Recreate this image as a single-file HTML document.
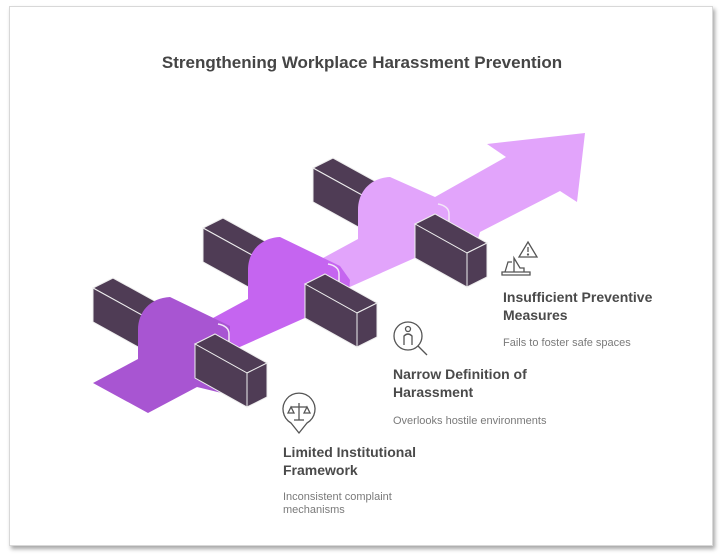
<!DOCTYPE html>
<html><head><meta charset="utf-8"><style>
html,body{margin:0;padding:0;background:#fff;width:723px;height:558px;overflow:hidden}
.frame{position:absolute;left:9px;top:6px;width:702px;height:538px;border:1px solid #d8d8d8;box-shadow:2px 3px 4px rgba(0,0,0,.35);background:#fff}
svg{position:absolute;left:0;top:0}
text{font-family:"Liberation Sans",sans-serif}
.h{font-weight:bold;font-size:14px;fill:#4a4a4a}
.s{font-size:11px;fill:#7a7a7a}
</style></head><body>
<div class="frame"></div>
<svg width="723" height="558" viewBox="0 0 723 558">
<defs>
<g id="barfull">
 <polygon points="0,0 20,-10 174,75 154,85" fill="#4f3c55" stroke="#eee" stroke-width="1"/>
 <polygon points="0,0 154,85 154,119 0,34" fill="#4f3c55" stroke="#eee" stroke-width="1"/>
 <polygon points="154,85 174,75 174,109 154,119" fill="#4f3c55" stroke="#eee" stroke-width="1"/>
</g>
<g id="barfront">
 <polygon points="102,56 122,46 174,75 154,85" fill="#4f3c55" stroke="#eee" stroke-width="1"/>
 <polygon points="102,56 154,85 154,119 102,90" fill="#4f3c55" stroke="#eee" stroke-width="1"/>
 <polygon points="154,85 174,75 174,109 154,119" fill="#4f3c55" stroke="#eee" stroke-width="1"/>
</g>
</defs>
<text x="362" y="68" text-anchor="middle" font-weight="bold" font-size="17" fill="#454545">Strengthening Workplace Harassment Prevention</text>

<use href="#barfull" x="313" y="168"/>
<use href="#barfull" x="203" y="228"/>
<use href="#barfull" x="93" y="288"/>

<path d="M323,258 L358,239 L358,210 C358,192 370,178 390,177 L435,197 L506,157 L487,144 L585,133 L577,202 L560,191 L480,232 L470,265 L417,257 L343,290 Z" fill="#e2a4fb"/>
<path d="M213,318 L248,299 L248,270 C248,252 260,238 280,237 L340,266 L350,280 L345,335 L307,317 L233,350 Z" fill="#c565f0"/>
<path d="M93,383 L138,359 L138,330 C138,312 150,298 170,297 L230,326 L230,395 L197,387 L148,413 Z" fill="#a855d2"/>
<path d="M218,324 Q229,326 229,334 L229,346" fill="none" stroke="#f3e6f8" stroke-width="1.5"/>
<path d="M328,264 Q339,266 339,274 L339,286" fill="none" stroke="#f3e6f8" stroke-width="1.5"/>
<path d="M438,204 Q449,206 449,214 L449,226" fill="none" stroke="#f3e6f8" stroke-width="1.5"/>

<use href="#barfront" x="313" y="168"/>
<use href="#barfront" x="203" y="228"/>
<use href="#barfront" x="93" y="288"/>

<!-- icons -->
<g fill="none" stroke="#555" stroke-width="1.3">
 <path d="M528,242 L537,257 L519,257 Z"/>
 <line x1="528" y1="247" x2="528" y2="252"/><circle cx="528" cy="254.5" r="0.5"/>
 <path d="M502,272 L530,272 L530,275 L502,275 Z"/>
 <path d="M505,272 L508,262 L512,262 M514,272 L514,258 L520,268 L524,268 L524,272"/>
 <circle cx="408" cy="336" r="14"/>
 <line x1="418" y1="346" x2="427" y2="355"/>
 <circle cx="408" cy="329" r="2.5"/>
 <path d="M404,345 L404,336 Q408,332 412,336 L412,345"/>
 <path d="M299,433 L291,423 A16,16 0 1 1 307,423 Z"/>
 <line x1="299" y1="403" x2="299" y2="420"/><line x1="291" y1="407" x2="307" y2="407"/>
 <path d="M288,413 L291,407 L294,413 Z M304,413 L307,407 L310,413 Z"/>
 <line x1="294" y1="420" x2="304" y2="420"/>
</g>

<text class="h" x="503" y="302">Insufficient Preventive</text>
<text class="h" x="503" y="320">Measures</text>
<text class="s" x="503" y="346">Fails to foster safe spaces</text>
<text class="h" x="393" y="379">Narrow Definition of</text>
<text class="h" x="393" y="397">Harassment</text>
<text class="s" x="393" y="424">Overlooks hostile environments</text>
<text class="h" x="283" y="457">Limited Institutional</text>
<text class="h" x="283" y="475">Framework</text>
<text class="s" x="283" y="500">Inconsistent complaint</text>
<text class="s" x="283" y="513">mechanisms</text>
</svg>
</body></html>
